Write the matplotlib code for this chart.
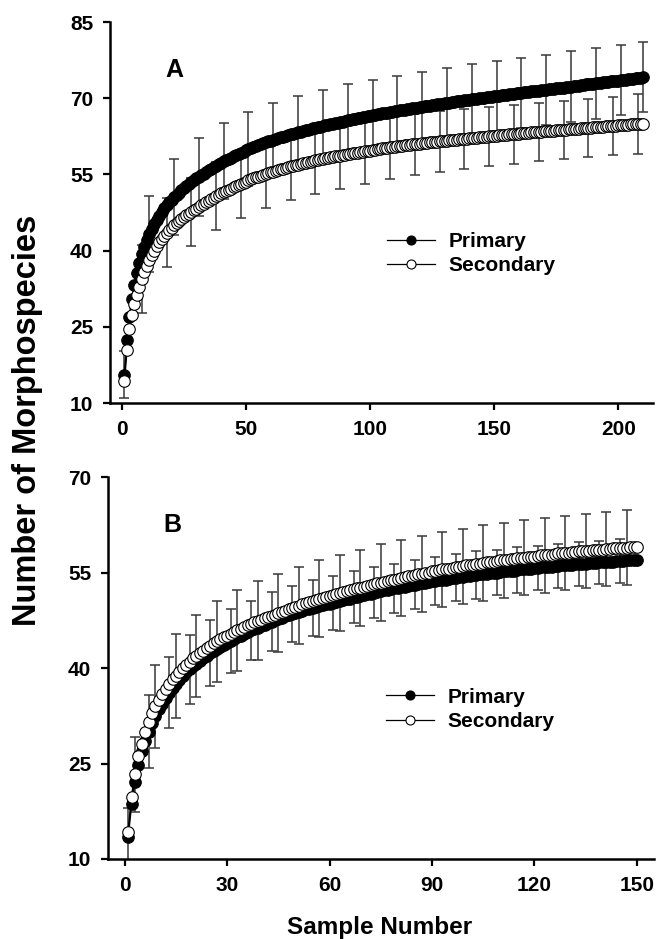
import numpy as np
import matplotlib
matplotlib.use("Agg")
import matplotlib.pyplot as plt

plt.rcParams["font.family"] = ["Liberation Sans", "DejaVu Sans"]
plt.rcParams["font.weight"] = "bold"

# ---------------------------------------------------------------- data, panel A
samples_a = np.arange(1, 211)
primary_a = [
    15.6, 22.4, 27.0, 30.5, 33.3, 35.6, 37.6, 39.3, 40.8, 42.1,
    43.2, 44.2, 45.2, 46.1, 46.9, 47.6, 48.3, 48.9, 49.5, 50.0,
    50.5, 51.0, 51.4, 51.9, 52.3, 52.7, 53.1, 53.5, 53.8, 54.2,
    54.5, 54.8, 55.1, 55.5, 55.8, 56.1, 56.4, 56.7, 57.0, 57.3,
    57.6, 57.8, 58.1, 58.3, 58.6, 58.8, 59.1, 59.3, 59.5, 59.8,
    60.0, 60.2, 60.4, 60.6, 60.8, 60.9, 61.1, 61.3, 61.5, 61.6,
    61.8, 62.0, 62.1, 62.3, 62.4, 62.6, 62.7, 62.9, 63.0, 63.2,
    63.3, 63.4, 63.6, 63.7, 63.8, 63.9, 64.1, 64.2, 64.3, 64.4,
    64.6, 64.7, 64.8, 64.9, 65.0, 65.1, 65.2, 65.3, 65.4, 65.5,
    65.7, 65.8, 65.9, 66.0, 66.1, 66.2, 66.3, 66.3, 66.4, 66.5,
    66.6, 66.7, 66.8, 66.9, 67.0, 67.1, 67.1, 67.2, 67.3, 67.4,
    67.5, 67.6, 67.7, 67.7, 67.8, 67.9, 68.0, 68.1, 68.1, 68.2,
    68.3, 68.4, 68.5, 68.5, 68.6, 68.7, 68.8, 68.8, 68.9, 69.0,
    69.1, 69.1, 69.2, 69.3, 69.4, 69.4, 69.5, 69.6, 69.6, 69.7,
    69.8, 69.8, 69.9, 70.0, 70.1, 70.1, 70.2, 70.3, 70.3, 70.4,
    70.5, 70.5, 70.6, 70.7, 70.7, 70.8, 70.9, 70.9, 71.0, 71.0,
    71.1, 71.2, 71.2, 71.3, 71.4, 71.4, 71.5, 71.5, 71.6, 71.7,
    71.7, 71.8, 71.8, 71.9, 72.0, 72.0, 72.1, 72.1, 72.2, 72.3,
    72.3, 72.4, 72.4, 72.5, 72.6, 72.6, 72.7, 72.7, 72.8, 72.8,
    72.9, 73.0, 73.0, 73.1, 73.1, 73.2, 73.3, 73.3, 73.4, 73.4,
    73.5, 73.6, 73.6, 73.7, 73.7, 73.8, 73.9, 73.9, 74.0, 74.1,
]
secondary_a = [
    14.3, 20.4, 24.5, 27.3, 29.4, 31.3, 32.9, 34.4, 35.8, 37.0,
    38.1, 39.1, 40.0, 40.9, 41.6, 42.3, 42.9, 43.5, 44.0, 44.5,
    45.0, 45.4, 45.8, 46.2, 46.6, 47.0, 47.3, 47.6, 47.9, 48.2,
    48.5, 48.9, 49.2, 49.5, 49.8, 50.1, 50.4, 50.7, 51.0, 51.3,
    51.5, 51.7, 52.0, 52.2, 52.5, 52.7, 52.9, 53.2, 53.4, 53.6,
    53.8, 54.0, 54.2, 54.4, 54.5, 54.7, 54.9, 55.1, 55.2, 55.4,
    55.5, 55.7, 55.8, 56.0, 56.1, 56.3, 56.4, 56.6, 56.7, 56.8,
    56.9, 57.1, 57.2, 57.3, 57.4, 57.5, 57.6, 57.8, 57.9, 58.0,
    58.1, 58.2, 58.3, 58.4, 58.5, 58.6, 58.7, 58.7, 58.8, 58.9,
    59.0, 59.1, 59.2, 59.3, 59.3, 59.4, 59.5, 59.6, 59.7, 59.7,
    59.8, 59.9, 60.0, 60.0, 60.1, 60.2, 60.2, 60.3, 60.4, 60.4,
    60.5, 60.6, 60.6, 60.7, 60.7, 60.8, 60.9, 60.9, 61.0, 61.0,
    61.1, 61.2, 61.2, 61.3, 61.3, 61.4, 61.4, 61.5, 61.5, 61.6,
    61.6, 61.7, 61.7, 61.8, 61.8, 61.9, 61.9, 62.0, 62.0, 62.1,
    62.1, 62.2, 62.2, 62.3, 62.3, 62.4, 62.4, 62.5, 62.5, 62.6,
    62.6, 62.7, 62.7, 62.8, 62.8, 62.9, 62.9, 62.9, 63.0, 63.0,
    63.1, 63.1, 63.2, 63.2, 63.3, 63.3, 63.3, 63.4, 63.4, 63.5,
    63.5, 63.6, 63.6, 63.6, 63.7, 63.7, 63.8, 63.8, 63.8, 63.9,
    63.9, 64.0, 64.0, 64.0, 64.1, 64.1, 64.2, 64.2, 64.2, 64.3,
    64.3, 64.4, 64.4, 64.4, 64.5, 64.5, 64.6, 64.6, 64.6, 64.7,
    64.7, 64.7, 64.8, 64.8, 64.9, 64.9, 64.9, 65.0, 65.0, 65.0,
]
# standard deviations, shown only at some samples
primary_a_err_at = [1, 11, 21, 31, 41, 51, 61, 71, 81, 91, 101,
                    111, 121, 131, 141, 151, 161, 171, 181, 191, 201, 210]
primary_a_err = [4.7, 7.5, 7.5, 7.6, 7.5, 7.3, 7.2, 7.2, 7.1, 7.0, 6.9,
                 6.9, 6.9, 6.9, 6.9, 6.9, 6.9, 6.9, 6.9, 6.9, 6.9, 6.9]
secondary_a_err_at = [8, 18, 28, 38, 48, 58, 68, 78, 88, 98, 108,
                      118, 128, 138, 148, 158, 168, 178, 188, 198, 208]
secondary_a_err = [6.7, 6.8, 6.7, 6.7, 6.7, 6.8, 6.7, 6.7, 6.6, 6.5, 6.3,
                   6.1, 6.0, 5.9, 5.8, 5.8, 5.7, 5.7, 5.7, 5.7, 5.9]

# ---------------------------------------------------------------- data, panel B
samples_b = np.arange(1, 151)
primary_b = [
    13.5, 18.7, 22.1, 24.8, 26.9, 28.6, 30.0, 31.3, 32.5, 33.5,
    34.4, 35.3, 36.1, 36.8, 37.5, 38.1, 38.7, 39.3, 39.8, 40.3,
    40.7, 41.1, 41.5, 41.9, 42.3, 42.6, 43.0, 43.3, 43.6, 43.9,
    44.2, 44.5, 44.8, 45.1, 45.3, 45.6, 45.9, 46.1, 46.3, 46.6,
    46.8, 47.0, 47.3, 47.5, 47.7, 47.9, 48.1, 48.3, 48.5, 48.6,
    48.8, 49.0, 49.2, 49.3, 49.5, 49.6, 49.8, 49.9, 50.0, 50.1,
    50.2, 50.4, 50.5, 50.7, 50.8, 50.9, 51.1, 51.2, 51.3, 51.5,
    51.6, 51.7, 51.8, 51.9, 52.1, 52.2, 52.3, 52.4, 52.5, 52.6,
    52.7, 52.8, 52.9, 53.0, 53.1, 53.2, 53.3, 53.4, 53.5, 53.6,
    53.7, 53.8, 53.9, 53.9, 54.0, 54.1, 54.2, 54.3, 54.3, 54.4,
    54.5, 54.6, 54.6, 54.7, 54.8, 54.8, 54.9, 55.0, 55.0, 55.1,
    55.2, 55.2, 55.3, 55.3, 55.4, 55.5, 55.5, 55.6, 55.6, 55.7,
    55.7, 55.8, 55.8, 55.9, 55.9, 56.0, 56.0, 56.1, 56.1, 56.2,
    56.2, 56.3, 56.3, 56.4, 56.4, 56.5, 56.5, 56.5, 56.6, 56.6,
    56.7, 56.7, 56.7, 56.8, 56.8, 56.8, 56.9, 56.9, 57.0, 57.0,
]
secondary_b = [
    14.3, 19.8, 23.3, 26.1, 28.1, 30.0, 31.5, 32.9, 34.0, 35.0,
    35.9, 36.7, 37.5, 38.2, 38.8, 39.4, 40.0, 40.5, 41.0, 41.5,
    41.9, 42.3, 42.7, 43.1, 43.5, 43.9, 44.2, 44.5, 44.8, 45.1,
    45.4, 45.7, 45.9, 46.2, 46.5, 46.7, 46.9, 47.2, 47.4, 47.6,
    47.8, 48.0, 48.2, 48.4, 48.6, 48.8, 49.0, 49.2, 49.4, 49.6,
    49.8, 50.0, 50.2, 50.4, 50.5, 50.7, 50.9, 51.0, 51.2, 51.3,
    51.5, 51.6, 51.8, 51.9, 52.1, 52.2, 52.4, 52.5, 52.6, 52.8,
    52.9, 53.0, 53.2, 53.3, 53.4, 53.5, 53.7, 53.8, 53.9, 54.0,
    54.1, 54.3, 54.4, 54.5, 54.6, 54.7, 54.8, 54.9, 55.0, 55.2,
    55.3, 55.4, 55.5, 55.5, 55.6, 55.7, 55.8, 55.9, 56.0, 56.1,
    56.2, 56.2, 56.3, 56.4, 56.5, 56.6, 56.6, 56.7, 56.8, 56.9,
    56.9, 57.0, 57.1, 57.1, 57.2, 57.3, 57.3, 57.4, 57.5, 57.5,
    57.6, 57.7, 57.7, 57.8, 57.8, 57.9, 58.0, 58.0, 58.1, 58.1,
    58.2, 58.2, 58.3, 58.3, 58.4, 58.4, 58.5, 58.5, 58.6, 58.6,
    58.7, 58.7, 58.8, 58.8, 58.8, 58.9, 58.9, 59.0, 59.0, 59.0,
]
primary_b_err_at = [1, 7, 13, 19, 25, 31, 37, 43, 49, 55, 61, 67, 73,
                    79, 85, 91, 97, 103, 109, 115, 121, 127, 133, 139, 145]
primary_b_err = [4.5, 5.7, 5.6, 5.4, 5.2, 5.0, 4.7, 4.6, 4.45, 4.4, 4.2, 4.1, 4.0,
                 3.9, 3.85, 3.8, 3.7, 3.7, 3.6, 3.6, 3.5, 3.5, 3.45, 3.4, 3.4]
secondary_b_err_at = [3, 9, 15, 21, 27, 33, 39, 45, 51, 57, 63, 69, 75,
                      81, 87, 93, 99, 105, 111, 117, 123, 129, 135, 141, 147]
secondary_b_err = [5.9, 6.5, 6.6, 6.5, 6.4, 6.3, 6.2, 6.15, 6.0, 6.05, 6.0, 6.0, 6.0,
                   5.95, 5.95, 5.9, 5.9, 5.9, 5.9, 5.9, 5.85, 5.85, 5.85, 5.85, 5.85]

# ******************************************************************************** #

def draw_panel(ax, x, prim, sec, p_at, p_err, s_at, s_err, xlim, ylim, xticks, yticks, letter):
    prim, sec = np.array(prim), np.array(sec)
    for at, err, ys in [(p_at, p_err, prim), (s_at, s_err, sec)]:
        at = np.array(at)
        eb = ax.errorbar(at, ys[at - 1], yerr=err, fmt="none", ecolor="0.22",
                         elinewidth=1.1, capsize=3.8, capthick=1.1, zorder=1)
        for cap in eb[1]:
            cap.set_color("black")

    ax.plot(x, prim, "-o", color="black", lw=1.2, ms=8.3, mfc="black",
            mec="black", mew=0.8, zorder=3, label="Primary")
    ax.plot(x, sec, "-o", color="black", lw=1.2, ms=8.3, mfc="white",
            mec="black", mew=0.8, zorder=4, label="Secondary")

    ax.set_xlim(*xlim)
    ax.set_ylim(*ylim)
    ax.set_xticks(xticks)
    ax.set_yticks(yticks)
    for s in ["top", "right"]:
        ax.spines[s].set_visible(False)
    for s in ["left", "bottom"]:
        ax.spines[s].set_linewidth(1.8)
    ax.tick_params(direction="out", length=5, width=1.6, labelsize=15, pad=7)
    for lab in ax.get_xticklabels() + ax.get_yticklabels():
        lab.set_fontweight("bold")

    ax.text(0.118, 0.875, letter, transform=ax.transAxes, fontsize=18,
            fontweight="bold", ha="center", va="center")

    # legend handles: thin line with small marker
    h1, = ax.plot([], [], "-o", color="black", lw=0.9, ms=6.5, mfc="black", mec="black", mew=0.8)
    h2, = ax.plot([], [], "-o", color="black", lw=0.9, ms=6.5, mfc="white", mec="black", mew=0.8)
    ax.legend([h1, h2], ["Primary", "Secondary"], loc="center left",
              bbox_to_anchor=(0.51, 0.392), frameon=False, borderpad=0,
              borderaxespad=0, handlelength=2.3, handletextpad=0.65,
              labelspacing=0.25, prop={"weight": "bold", "size": 15})


fig = plt.figure(figsize=(6.57, 9.39), dpi=100)
ax1 = fig.add_axes([110 / 657, 1 - 403 / 939, 543 / 657, 381 / 939])
ax2 = fig.add_axes([108 / 657, 1 - 859 / 939, 546 / 657, 382 / 939])

draw_panel(ax1, samples_a, primary_a, secondary_a, primary_a_err_at, primary_a_err,
           secondary_a_err_at, secondary_a_err, (-4.8, 214), (10, 85),
           [0, 50, 100, 150, 200], [10, 25, 40, 55, 70, 85], "A")
draw_panel(ax2, samples_b, primary_b, secondary_b, primary_b_err_at, primary_b_err,
           secondary_b_err_at, secondary_b_err, (-4.9, 155), (10, 70),
           [0, 30, 60, 90, 120, 150], [10, 25, 40, 55, 70], "B")

fig.text(28 / 657, 1 - 420 / 939, "Number of Morphospecies", rotation=90,
         ha="center", va="center", fontsize=23.5, fontweight="bold")
fig.text(380 / 657, (939 - 934) / 939, "Sample Number", ha="center",
         va="baseline", fontsize=17.5, fontweight="bold")

plt.savefig("out.png", dpi=100)
plt.close(fig)
